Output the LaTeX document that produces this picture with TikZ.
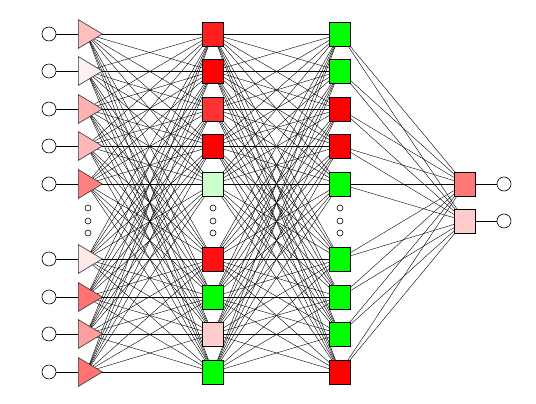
\documentclass[tikz,border=0pt]{standalone}
\usepackage{tikz}
\usetikzlibrary{shapes.geometric, backgrounds}

\begin{document}
\begin{tikzpicture}[x=1pt, y=-1pt, line width=0.6pt,
  inp/.style={circle, draw, minimum size=14pt, inner sep=0pt},
  tri/.style={isosceles triangle, isosceles triangle apex angle=62, draw=black!80,
    fill=#1, minimum height=24pt, inner sep=0pt, anchor=west},
  cell/.style={rectangle, draw, fill=#1, minimum width=21pt, minimum height=24pt, inner sep=0pt},
  gap/.style={circle, draw, minimum size=6pt, inner sep=0pt}]
  \useasboundingbox (0,0) rectangle (536,404);
  % Input column: circles and triangles
  \foreach \i/\y/\c in {1/34/red!25, 2/71/red!6, 3/109/red!30, 4/146/red!28, 5/184/red!50,
                        6/259/red!9, 7/297/red!55, 8/334/red!38, 9/372/red!55}{
    \node[inp] (in\i) at (49,\y) {};
    \node[tri=\c] (tri\i) at (78,\y) {};
    \draw (in\i) -- (tri\i);
  }
  % First hidden layer
  \foreach \i/\y/\c in {1/34/red!88, 2/71/red, 3/109/red!80, 4/146/red, 5/184/green!20,
                        6/259/red!94, 7/297/green, 8/334/red!20, 9/372/green}{
    \node[cell=\c] (ha\i) at (213,\y) {};
  }
  % Second hidden layer
  \foreach \i/\y/\c in {1/34/green, 2/71/green, 3/109/red, 4/146/red, 5/184/green,
                        6/259/green, 7/297/green, 8/334/green, 9/372/red}{
    \node[cell=\c] (hb\i) at (340,\y) {};
  }
  % Output layer
  \node[cell=red!53] (out1) at (465,184) {};
  \node[cell=red!20] (out2) at (465,221) {};
  \node[inp] (res1) at (504,184) {};
  \node[inp] (res2) at (504,221) {};
  \draw (out1) -- (res1);
  \draw (out2) -- (res2);
  % Ellipsis dots
  \foreach \x/\n in {88/a, 213/b, 340/c}{
    \foreach \y/\k in {208/1, 221/2, 233/3}
      \node[gap] (dot\n\k) at (\x,\y) {};
  }
  % Connections, behind the units
  \begin{pgfonlayer}{background}
    \foreach \i in {1,...,9}{
      \foreach \j in {1,...,9}{
        \draw (tri\i.center) -- (ha\j.center);
        \draw (ha\i.center) -- (hb\j.center);
      }
      \draw (hb\i.center) -- (out1.center);
      \draw (hb\i.center) -- (out2.center);
    }
  \end{pgfonlayer}
\end{tikzpicture}
\end{document}
